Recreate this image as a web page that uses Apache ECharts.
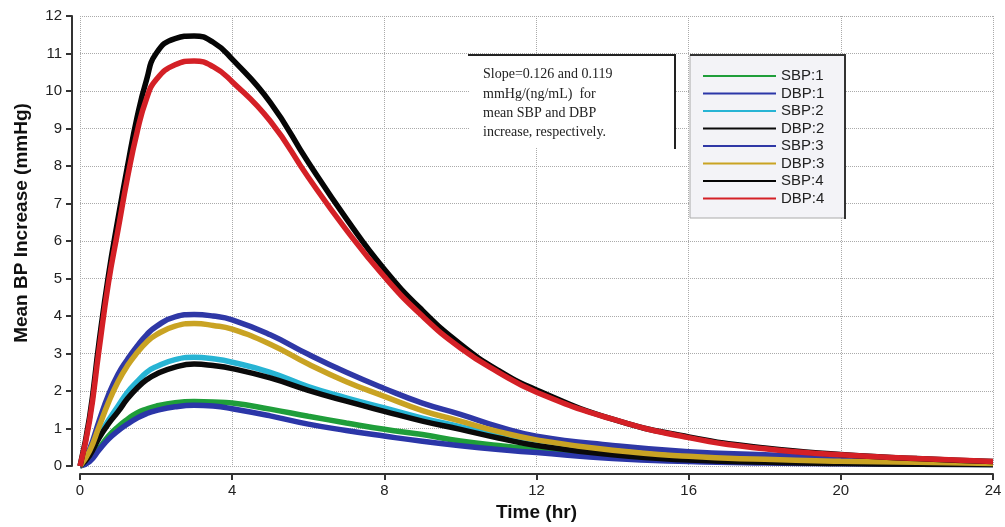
<!DOCTYPE html>
<html>
<head>
<meta charset="utf-8">
<script src="https://cdn.jsdelivr.net/npm/echarts@6/dist/echarts.min.js"></script>
<style>html,body{margin:0;padding:0;background:#fff;}#c{width:1005px;height:527px;}</style>
</head>
<body>
<div id="c"></div>
<script>
// Time points (hr)
const times = [0,0.25,0.5,0.75,1,1.25,1.5,1.75,2,2.5,3,3.5,4,5,6,7,8,9,10,11,12,14,16,18,20,22,24];
// Mean BP increase (mmHg) per series
const sbp1 = [0,0.15,0.47,0.8,1.05,1.25,1.42,1.52,1.6,1.69,1.72,1.71,1.68,1.52,1.33,1.15,0.98,0.84,0.67,0.55,0.45,0.3,0.18,0.12,0.08,0.06,0.04];
const dbp1 = [0,0.12,0.43,0.72,0.94,1.12,1.28,1.4,1.48,1.58,1.62,1.6,1.53,1.34,1.12,0.95,0.8,0.66,0.54,0.44,0.36,0.2,0.12,0.08,0.06,0.05,0.04];
const sbp2 = [0,0.3,0.8,1.22,1.6,1.97,2.25,2.5,2.65,2.84,2.9,2.86,2.77,2.5,2.12,1.82,1.55,1.28,1.05,0.82,0.62,0.35,0.2,0.13,0.09,0.07,0.05];
const dbp2 = [0,0.28,0.75,1.13,1.45,1.8,2.08,2.3,2.45,2.64,2.72,2.68,2.6,2.35,2.02,1.73,1.46,1.2,0.98,0.75,0.55,0.3,0.16,0.1,0.07,0.05,0.04];
const sbp3 = [0,0.45,1.2,1.9,2.45,2.85,3.2,3.5,3.72,3.98,4.04,4.0,3.9,3.5,2.98,2.5,2.07,1.68,1.38,1.05,0.8,0.55,0.38,0.3,0.22,0.16,0.1];
const dbp3 = [0,0.4,1.05,1.7,2.25,2.68,3.02,3.3,3.5,3.73,3.8,3.75,3.65,3.25,2.72,2.25,1.86,1.48,1.2,0.92,0.7,0.42,0.26,0.18,0.13,0.1,0.07];
const sbp4 = [0,1.3,3.3,5.1,6.6,8.0,9.3,10.3,11.0,11.4,11.47,11.3,10.85,9.7,8.1,6.6,5.25,4.15,3.25,2.55,2.03,1.25,0.78,0.48,0.31,0.2,0.12];
const dbp4 = [0,1.2,3.1,4.9,6.3,7.7,8.9,9.8,10.3,10.7,10.8,10.65,10.25,9.2,7.7,6.3,5.05,4.0,3.15,2.5,1.97,1.25,0.76,0.46,0.3,0.2,0.12];

const seriesNames = ['SBP:1','DBP:1','SBP:2','DBP:2','SBP:3','DBP:3','SBP:4','DBP:4'];
const seriesValues = [sbp1,dbp1,sbp2,dbp2,sbp3,dbp3,sbp4,dbp4];
const seriesColors = ['#1f9e3a','#2b36a8','#27b4d4','#0a0a0a','#2f38a6','#c9a323','#050505','#d42026'];

const xTicks = [0,4,8,12,16,20,24];
const yTicks = [0,1,2,3,4,5,6,7,8,9,10,11,12];

const annotation = ['Slope=0.126 and 0.119','mmHg/(ng/mL)  for','mean SBP and DBP','increase, respectively.'];

const chart = echarts.init(document.getElementById('c'), null, {renderer:'canvas'});

const series = seriesNames.map((n,i)=>({
  name:n, type:'line', showSymbol:false, smooth:0.5,
  data: times.map((t,j)=>[t, seriesValues[i][j]]),
  lineStyle:{width:5.5, color:seriesColors[i]},
  itemStyle:{color:seriesColors[i]},
  z: 2 + i*0.01
}));

chart.setOption({
  animation:false,
  backgroundColor:'#fff',
  grid:{left:80, right:12, top:16, bottom:53, containLabel:false},
  xAxis:{
    type:'value', min:xTicks[0], max:xTicks[xTicks.length-1], interval:4, offset:8,
    name:'Time (hr)', nameLocation:'middle', nameGap:25,
    nameTextStyle:{fontFamily:'Liberation Sans', fontWeight:'bold', fontSize:19, color:'#111'},
    axisLine:{show:true, onZero:false, lineStyle:{color:'#333', width:2}},
    axisTick:{show:true, length:6, inside:false, lineStyle:{color:'#333', width:2}},
    axisLabel:{fontFamily:'Liberation Sans', fontSize:15, color:'#222', margin:9},
    splitLine:{show:true, lineStyle:{type:'dotted', color:'#aaa', width:1}}
  },
  yAxis:{
    type:'value', min:yTicks[0], max:yTicks[yTicks.length-1], interval:1, offset:8,
    axisLine:{show:true, onZero:false, lineStyle:{color:'#333', width:2}},
    axisTick:{show:true, length:6, inside:false, lineStyle:{color:'#333', width:2}},
    axisLabel:{fontFamily:'Liberation Sans', fontSize:15, color:'#222', margin:10},
    splitLine:{show:true, lineStyle:{type:'dotted', color:'#aaa', width:1}}
  },
  legend:{
    orient:'vertical', left:703, top:68, padding:0, itemGap:1.5,
    itemWidth:73, itemHeight:2, icon:'rect', z:10,
    textStyle:{fontFamily:'Liberation Sans', fontSize:15, lineHeight:16, color:'#222'},
    data: seriesNames
  },
  graphic:[
    {type:'rect', z:5, shape:{x:470, y:55, width:205, height:93}, style:{fill:'#fff'}},
    {type:'line', z:6, shape:{x1:468, y1:55, x2:676, y2:55}, style:{stroke:'#222', lineWidth:2}},
    {type:'line', z:6, shape:{x1:675, y1:55, x2:675, y2:149}, style:{stroke:'#222', lineWidth:2}},
    {type:'text', z:6, x:483, y:65, style:{text:annotation.join('\n'), fontFamily:'Liberation Serif', fontSize:14, lineHeight:19.3, fill:'#222'}},
    {type:'rect', z:5, shape:{x:690, y:55, width:155, height:163}, style:{fill:'#f3f3f7', stroke:'#aaa', lineWidth:1}},
    {type:'line', z:6, shape:{x1:690, y1:55, x2:846, y2:55}, style:{stroke:'#333', lineWidth:2}},
    {type:'line', z:6, shape:{x1:845, y1:55, x2:845, y2:219}, style:{stroke:'#333', lineWidth:2}},
    {type:'text', z:6, x:22, y:223, rotation:Math.PI/2,
     style:{text:'Mean BP Increase (mmHg)', fontFamily:'Liberation Sans', fontWeight:'bold', fontSize:19, fill:'#111', align:'center', verticalAlign:'middle', textAlign:'center', textVerticalAlign:'middle'}}
  ],
  series: series
});
</script>
</body>
</html>
